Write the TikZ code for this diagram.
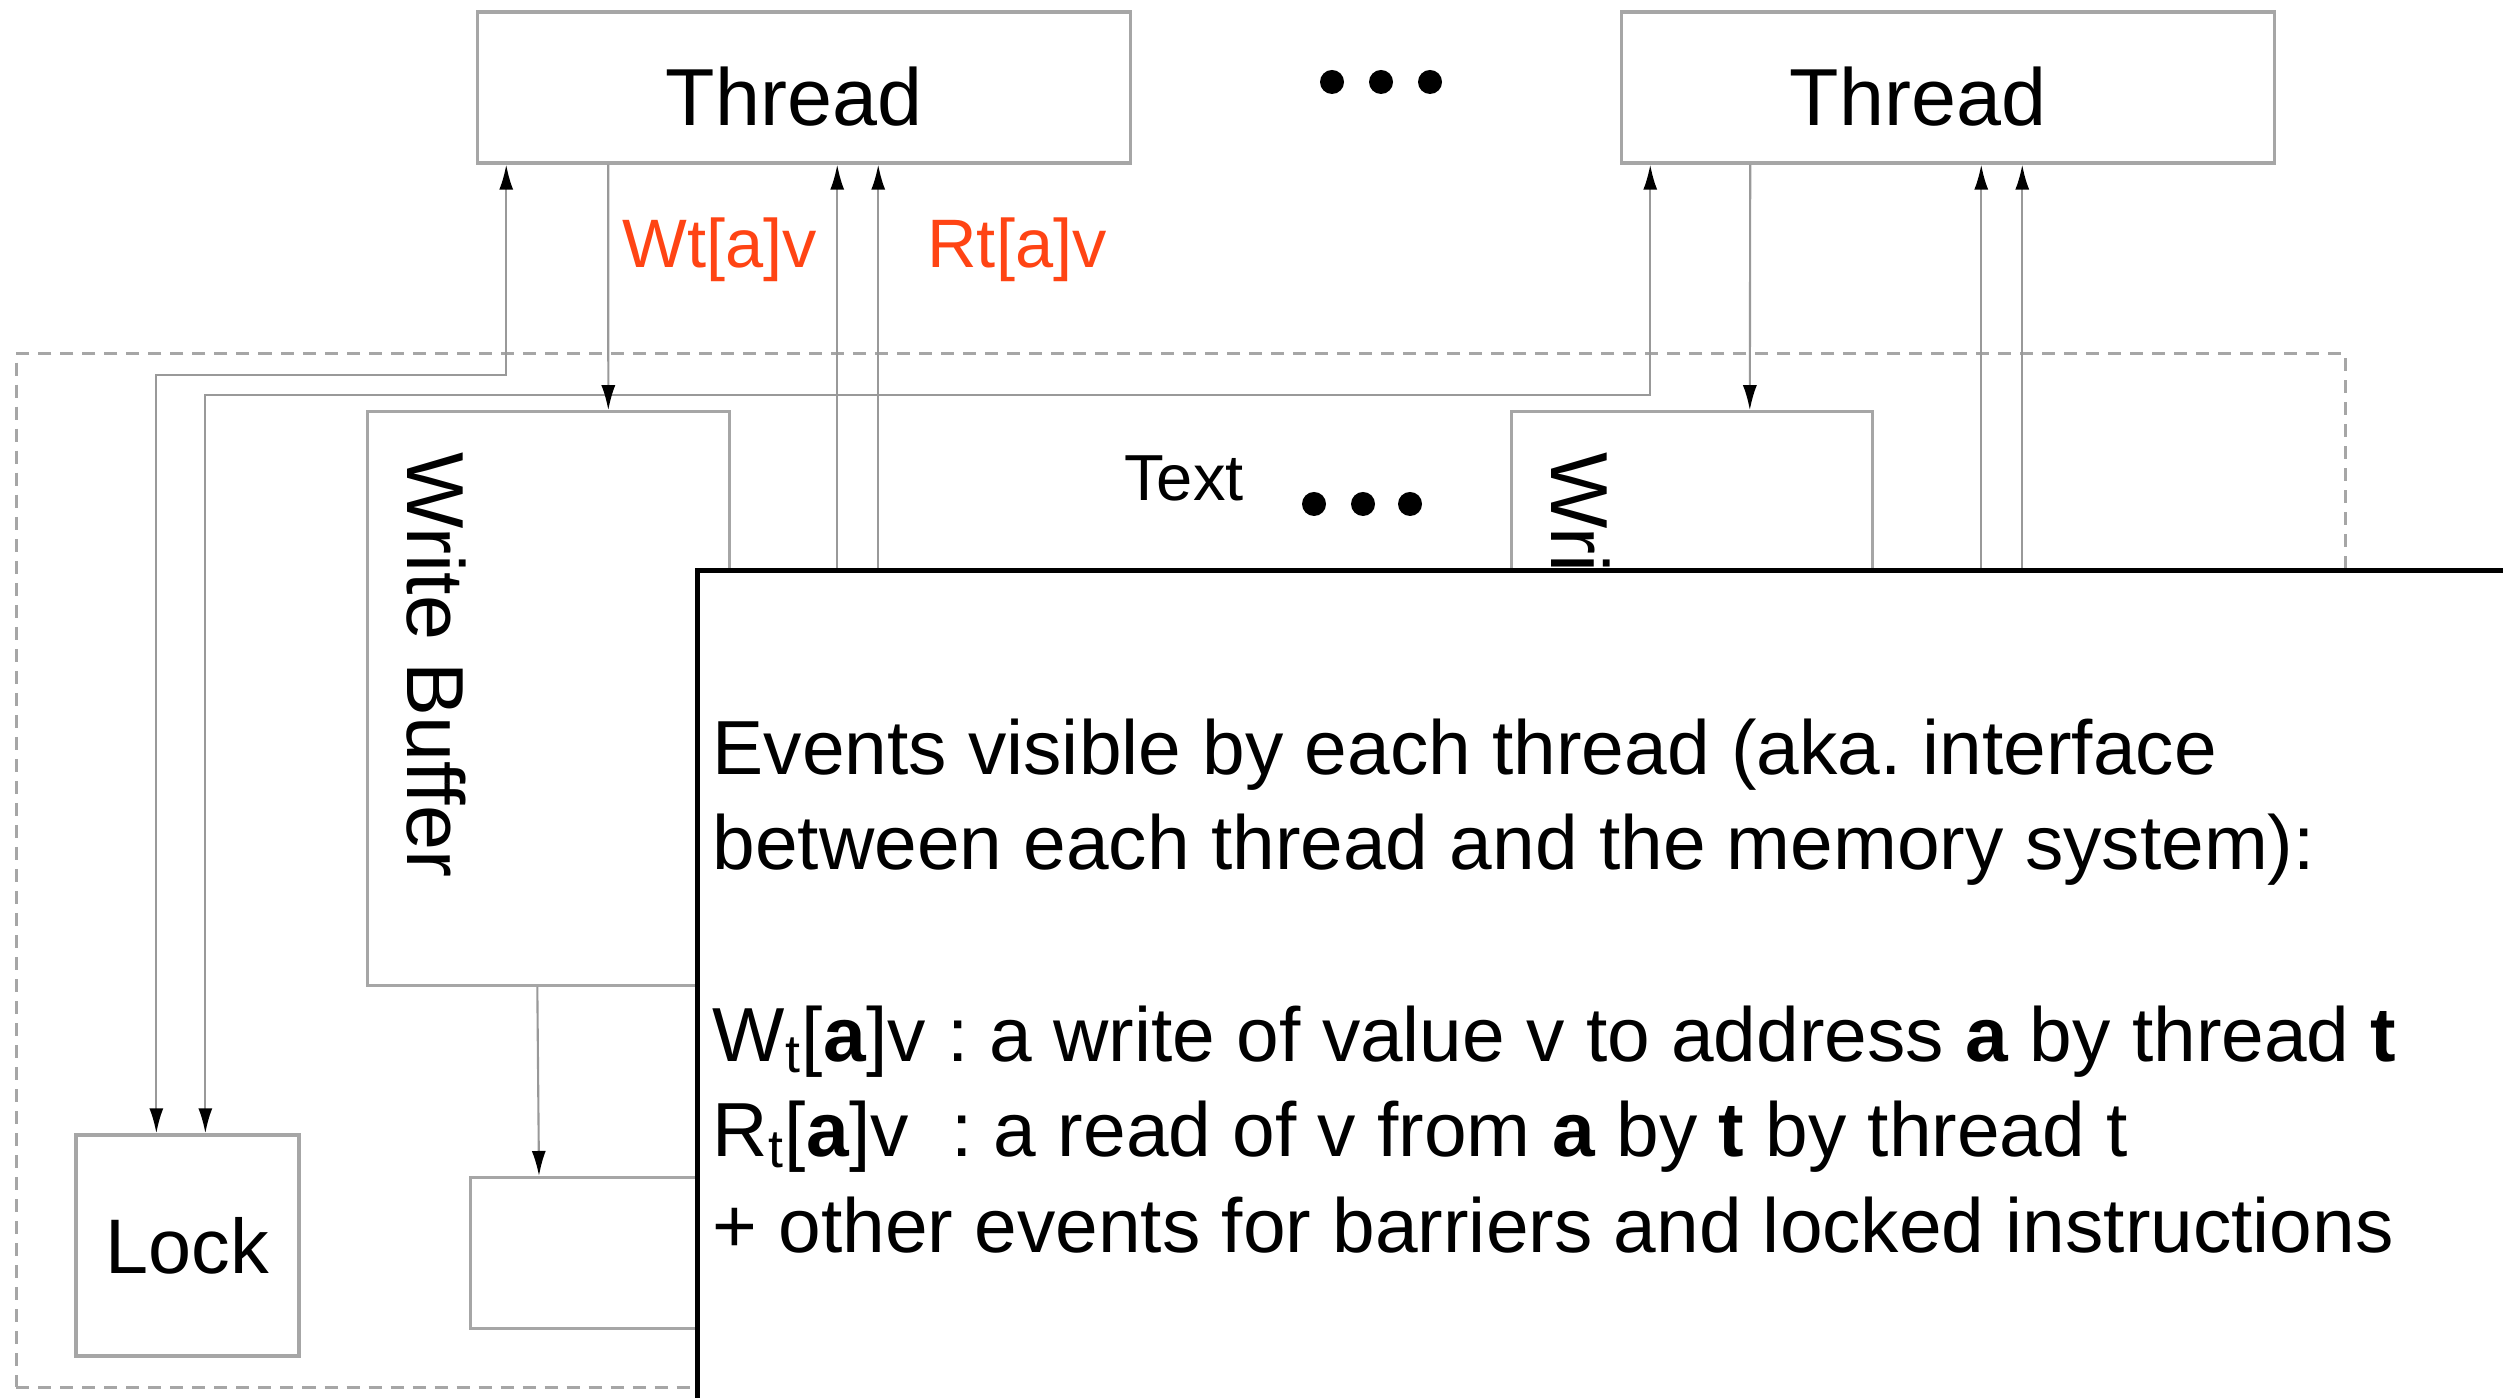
\documentclass[tikz,border=0pt]{standalone}
\usepackage{fontspec}
\setmainfont{Liberation Sans}
\usepackage{xcolor}
\usetikzlibrary{arrows.meta,calc,positioning}
\definecolor{evred}{RGB}{255,68,20}
\frenchspacing

\begin{document}
\begin{tikzpicture}[x=0.01cm,y=-0.01cm,>={Latex[length=2.5mm,width=1.4mm,color=black]},
    box/.style={draw=gray!70,line width=0.9pt,inner sep=0pt},
    thread/.style={box,minimum width=6.52cm,minimum height=1.51cm,text height=21.6pt,text depth=0pt,font=\fontsize{23}{28}\selectfont},
    wbuf/.style={box,minimum width=3.61cm,minimum height=5.73cm},
    wbtext/.style={rotate=-90,font=\fontsize{23}{28}\selectfont},
    link/.style={draw=gray!80,line width=0.6pt},
    evlabel/.style={text=evred,font=\fontsize{19.5}{23}\selectfont,anchor=base}]
    \useasboundingbox (0,0) rectangle (2503,1398);
    \clip (0,0) rectangle (2503,1398);

    % threads
    \node[thread] (th1) at (804,87.5) {Thread\hspace*{0.2cm}};
    \node[thread] (th2) at (1948,87.5) {Thread\hspace*{0.6cm}};
    \foreach \x in {1332,1381,1430}
        \fill (\x,82) circle (0.12cm);

    % memory system
    \node[draw=gray!70,dashed,dash pattern=on 1.3mm off 0.9mm,line width=0.7pt,minimum width=23.28cm,minimum height=10.33cm] (sys) at (1181,870.5) {};
    \node[wbuf] (wb1) at (548.5,698.5) {};
    \node[wbuf] (wb2) at (1692,698.5) {};
    \node[wbtext] (wb1t) at (436,665) {Write Buffer};
    \node[wbtext] (wb2t) at (1580,665) {Write Buffer};
    \node[box,minimum width=2.23cm,minimum height=2.21cm,font=\fontsize{22}{27}\selectfont] (lock) at (187.5,1245.5) {Lock};
    \node[box,anchor=north west,minimum width=14cm,minimum height=1.51cm] (mem) at (469,1176) {};
    \node[font=\fontsize{18.5}{22}\selectfont,anchor=base] (txt) at (1184,501) {Text};
    \foreach \x in {1314,1363,1410}
        \fill (\x,504) circle (0.12cm);

    % connectors
    \draw[link,<->] ($(th1.south west)+(30,0)$) -- ++(0,210) -| ($(lock.north west)+(82,0)$);
    \draw[link,<->] ($(th2.south west)+(30,0)$) -- ++(0,230) -| ($(lock.north west)+(131,0)$);
    \draw[link,->] ($(th1.south west)+(132,0)$) -- ($(wb1.north west)+(242,0)$);
    \draw[link,->] ($(th2.south west)+(130,0)$) -- ($(wb2.north west)+(240,0)$);
    \foreach \t in {th1,th2}
        \foreach \dx in {361,402}
            \draw[link,->] ($(\t.south west)+(\dx,700)$) -- ($(\t.south west)+(\dx,0)$);
    \draw[link,->] ($(wb1.south west)+(171,0)$) -- ($(mem.north west)+(70,0)$);

    \node[evlabel] (wlab) at (720,268) {Wt[a]v};
    \node[evlabel] (rlab) at (1017,268) {Rt[a]v};

    % note on top
    \node[draw=black,fill=white,line width=1.3pt,anchor=north west,minimum width=20cm,minimum height=10cm] (note) at (695,568) {};
    \node[anchor=north west,align=left,inner sep=0pt,font=\fontsize{21.8}{27.2}\selectfont] (notetxt) at (712,718)
        {Events visible by each thread (aka. interface\\
         between each thread and the memory system):\\[27.2pt]
         W\textsubscript{t}[\textbf{a}]v : a write of value v to address \textbf{a} by thread \textbf{t}\\
         R\textsubscript{t}[\textbf{a}]v\ \ : a read of v from \textbf{a} by \textbf{t} by thread t\\
         + other events for barriers and locked instructions};
\end{tikzpicture}
\end{document}
